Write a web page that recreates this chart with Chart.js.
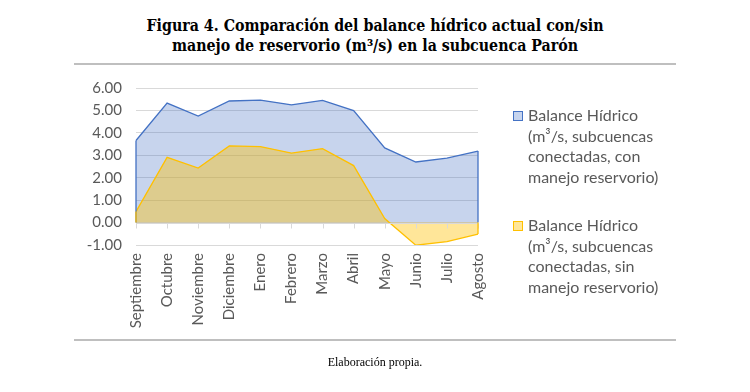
<!DOCTYPE html>
<html><head><meta charset="utf-8">
<script src="https://cdn.jsdelivr.net/npm/chart.js@4"></script>
<style>
html,body{margin:0;padding:0;background:#fff;}
#wrap{position:relative;width:750px;height:392px;overflow:hidden;background:#fff;}
#c{position:absolute;left:0;top:0;}
.title{position:absolute;left:0;width:750px;top:16px;text-align:center;font-family:"DejaVu Serif Condensed","DejaVu Serif",serif;font-stretch:condensed;font-weight:bold;font-size:15.8px;line-height:20px;color:#000;}
.rule{position:absolute;left:74px;width:602px;height:2px;background:#bfbfbf;}
.foot{position:absolute;left:0;width:750px;top:355px;text-align:center;font-family:"Liberation Serif",serif;font-size:12px;color:#000;}
.leg{position:absolute;left:528px;font-family:Lato,sans-serif;font-size:16px;line-height:20.7px;color:#595959;white-space:nowrap;}
.box{position:absolute;left:513px;width:8px;height:8px;border:1px solid;}
</style></head>
<body><div id="wrap">
<div class="title">Figura 4. Comparación del balance hídrico actual con/sin<br>manejo de reservorio (m³/s) en la subcuenca Parón</div>
<div class="rule" style="top:63px"></div>
<canvas id="c" width="750" height="392"></canvas>
<div class="box" style="top:111px;background:#c6d4ee;border-color:#4472c4"></div>
<div class="leg" id="leg1" style="top:105px"></div>
<div class="box" style="top:221px;background:#ffe699;border-color:#ffc000"></div>
<div class="leg" id="leg2" style="top:215px"></div>
<div class="rule" style="top:339px"></div>
<div class="foot">Elaboración propia.</div>
</div>
<script>
const categories = ["Septiembre","Octubre","Noviembre","Diciembre","Enero","Febrero","Marzo","Abril","Mayo","Junio","Julio","Agosto"];
const conManejo = [3.66,5.33,4.75,5.42,5.46,5.25,5.45,4.99,3.33,2.70,2.87,3.19];
const sinManejo = [0.49,2.91,2.43,3.42,3.39,3.10,3.30,2.54,0.18,-1.01,-0.85,-0.51];
const seriesNames = [
  ["Balance Hídrico","(m³/s, subcuencas","conectadas, con","manejo reservorio)"],
  ["Balance Hídrico","(m³/s, subcuencas","conectadas, sin","manejo reservorio)"]
];
const yMin = -1, yMax = 6, yStep = 1;

document.getElementById('leg1').innerHTML = seriesNames[0].join('<br>');
document.getElementById('leg2').innerHTML = seriesNames[1].join('<br>');

const zeroAxis = {
  id: 'zeroAxis',
  afterDatasetsDraw(chart) {
    const {ctx, chartArea, scales} = chart;
    const y0 = Math.round(scales.y.getPixelForValue(0)) + 0.5;
    ctx.save();
    ctx.strokeStyle = '#d9d9d9';
    ctx.lineWidth = 1;
    ctx.beginPath();
    ctx.moveTo(chartArea.left, y0);
    ctx.lineTo(chartArea.right, y0);
    for (let i = 0; i < categories.length; i++) {
      const x = Math.round(scales.x.getPixelForValue(i)) + 0.5;
      ctx.moveTo(x, y0);
      ctx.lineTo(x, y0 + 5);
    }
    ctx.stroke();
    // area edges (drop lines at first and last category), like the area outline
    const last = categories.length - 1;
    chart.data.datasets.forEach((ds) => {
      ctx.strokeStyle = ds.borderColor;
      ctx.lineWidth = ds.borderWidth;
      ctx.beginPath();
      [0, last].forEach(i => {
        const x = scales.x.getPixelForValue(i);
        ctx.moveTo(x, scales.y.getPixelForValue(ds.data[i]));
        ctx.lineTo(x, scales.y.getPixelForValue(0));
      });
      ctx.stroke();
    });
    ctx.restore();
  }
};

new Chart(document.getElementById('c'), {
  type: 'line',
  data: {
    labels: categories,
    datasets: [
      {label: seriesNames[0].join(' '), data: conManejo, borderColor: '#4472c4', backgroundColor: 'rgba(68,114,196,0.3)', fill: 'origin', borderWidth: 1.3, pointRadius: 0, tension: 0, order: 2},
      {label: seriesNames[1].join(' '), data: sinManejo, borderColor: '#ffc000', backgroundColor: 'rgba(255,192,0,0.4)', fill: 'origin', borderWidth: 1.3, pointRadius: 0, tension: 0, order: 1}
    ]
  },
  options: {
    responsive: false,
    animation: false,
    events: [],
    layout: {padding: {left: 0, right: 272, top: 88, bottom: 0}},
    plugins: {legend: {display: false}, tooltip: {enabled: false}, title: {display: false}},
    scales: {
      x: {
        grid: {display: false, drawTicks: false},
        border: {display: false},
        ticks: {minRotation: 90, maxRotation: 90, padding: 8, color: '#595959', font: {family: 'Lato', size: 15}, autoSkip: false},
        afterFit(s) { s.height = 147; }
      },
      y: {
        min: yMin, max: yMax,
        grid: {color: '#d9d9d9', drawTicks: false},
        border: {display: false},
        ticks: {stepSize: yStep, padding: 14, color: '#595959', font: {family: 'Lato', size: 15}, callback: v => v.toFixed(2)},
        afterFit(s) { s.width = 136; }
      }
    }
  },
  plugins: [zeroAxis]
});
</script>
</body></html>
